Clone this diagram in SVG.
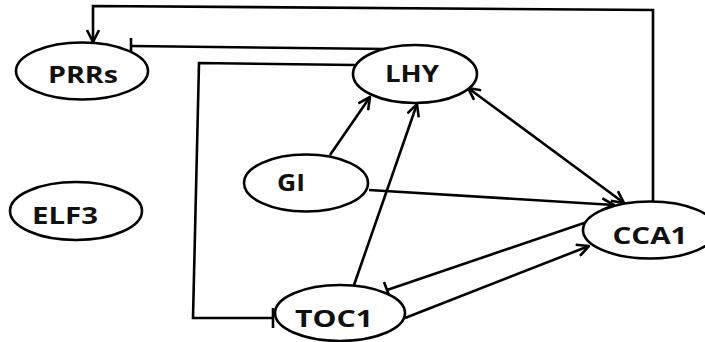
<svg xmlns="http://www.w3.org/2000/svg" width="705" height="342" viewBox="0 0 705 342">
  <defs>
    <style>
      .node ellipse { fill: #ffffff; stroke: #000000; stroke-width: 2.6; }
      .node text { font-family: "Open Sans", "Liberation Sans", sans-serif; font-weight: bold; font-size: 24px; fill: #111111; text-anchor: middle; }
      .edge { fill: none; stroke: #000000; stroke-width: 2.6; stroke-linejoin: miter; }
      .act { marker-end: url(#arrow); }
    </style>
    <marker id="arrow" viewBox="0 0 14 14" refX="13" refY="7" markerWidth="14" markerHeight="14" markerUnits="userSpaceOnUse" orient="auto-start-reverse">
      <path d="M1,1 L13,7 L1,13" fill="none" stroke="#000000" stroke-width="2.6"/>
    </marker>
  </defs>

  <g id="connectors">
    <!-- CCA1 activates PRRs (loop over the top) -->
    <polyline class="edge act" points="653,202 653,10 93,6 93,42"/>
    <!-- LHY represses PRRs -->
    <polyline class="edge" points="387,49 131,46"/>
    <line class="edge" x1="131" y1="38" x2="131" y2="54"/>
    <!-- LHY represses TOC1 -->
    <polyline class="edge" points="355,65 199,63 193,318 273,318"/>
    <line class="edge" x1="273" y1="308" x2="273" y2="328"/>
    <!-- GI activates LHY -->
    <line class="edge act" x1="330" y1="155" x2="370" y2="97"/>
    <!-- TOC1 activates LHY -->
    <line class="edge act" x1="354" y1="285" x2="417" y2="104"/>
    <!-- LHY and CCA1 mutual -->
    <line class="edge act" x1="468" y1="88" x2="624" y2="203" marker-start="url(#arrow)"/>
    <!-- GI activates CCA1 -->
    <line class="edge act" x1="369" y1="190" x2="614" y2="205"/>
    <!-- CCA1 represses TOC1 -->
    <line class="edge" x1="587" y1="222" x2="387" y2="290"/>
    <line class="edge" x1="384" y1="282" x2="390" y2="298"/>
    <!-- TOC1 activates CCA1 -->
    <line class="edge act" x1="405" y1="318" x2="589" y2="246"/>
  </g>

  <g id="PRRs" class="node">
    <ellipse cx="82" cy="71" rx="66" ry="28.5"/>
    <text x="83" y="83" textLength="70" lengthAdjust="spacingAndGlyphs">PRRs</text>
  </g>
  <g id="LHY" class="node">
    <ellipse cx="415" cy="74" rx="62" ry="29"/>
    <text x="412" y="82" textLength="54" lengthAdjust="spacingAndGlyphs">LHY</text>
  </g>
  <g id="GI" class="node">
    <ellipse cx="306" cy="183" rx="62" ry="28.5"/>
    <text x="291" y="191" textLength="28" lengthAdjust="spacingAndGlyphs">GI</text>
  </g>
  <g id="ELF3" class="node">
    <ellipse cx="76" cy="211" rx="66" ry="29"/>
    <text x="65" y="224" textLength="66" lengthAdjust="spacingAndGlyphs">ELF3</text>
  </g>
  <g id="TOC1" class="node">
    <ellipse cx="340" cy="313" rx="65" ry="28"/>
    <text x="334" y="327" textLength="78" lengthAdjust="spacingAndGlyphs">TOC1</text>
  </g>
  <g id="CCA1" class="node">
    <ellipse cx="650" cy="230" rx="67" ry="28.5"/>
    <text x="650" y="244" textLength="75" lengthAdjust="spacingAndGlyphs">CCA1</text>
  </g>
</svg>
